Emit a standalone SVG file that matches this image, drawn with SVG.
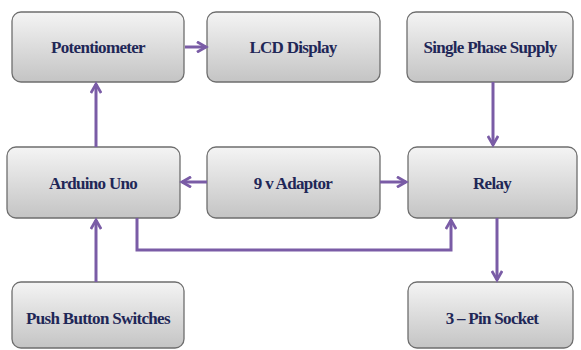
<svg xmlns="http://www.w3.org/2000/svg" width="581" height="350" viewBox="0 0 581 350">
<defs>
<linearGradient id="g" x1="0" y1="0" x2="0" y2="1">
<stop offset="0" stop-color="#f4f4f4"/>
<stop offset="1" stop-color="#c4c4c4"/>
</linearGradient>
<marker id="ah" viewBox="0 0 10 10" refX="8" refY="5" markerWidth="4.3" markerHeight="4.3" orient="auto">
<path d="M1,1 L8,5 L1,9" fill="none" stroke="#7a5ca6" stroke-width="2.2"/>
</marker>
</defs>
<style>
.box{fill:url(#g);stroke:#6e6e6e;stroke-width:1.3}
.t{font-family:'Liberation Serif','DejaVu Serif',serif;font-weight:700;font-size:17px;fill:#1f2757;text-anchor:middle;letter-spacing:-0.7px}
.c{fill:none;stroke:#7a5ca6;stroke-width:3;marker-end:url(#ah)}
</style>
<rect width="581" height="350" fill="#ffffff"/>
<g id="potentiometer"><rect class="box" x="12" y="12" width="172" height="70" rx="9"/><text class="t" x="98" y="53">Potentiometer</text></g>
<g id="lcd"><rect class="box" x="207" y="12" width="173" height="70" rx="9"/><text class="t" x="293" y="53">LCD Display</text></g>
<g id="supply"><rect class="box" x="407" y="12" width="166" height="70" rx="9"/><text class="t" x="490" y="53">Single Phase Supply</text></g>
<g id="arduino"><rect class="box" x="7" y="147" width="173" height="71" rx="9"/><text class="t" x="93" y="189">Arduino Uno</text></g>
<g id="adaptor"><rect class="box" x="207" y="147" width="173" height="71" rx="9"/><text class="t" x="293" y="189">9 v Adaptor</text></g>
<g id="relay"><rect class="box" x="408" y="147" width="169" height="71" rx="9"/><text class="t" x="492" y="189">Relay</text></g>
<g id="push"><rect class="box" x="12" y="282" width="172" height="66" rx="9"/><text class="t" x="98" y="324">Push Button Switches</text></g>
<g id="socket"><rect class="box" x="408" y="282" width="165" height="66" rx="9"/><text class="t" x="492" y="324">3 – Pin Socket</text></g>
<g id="connectors">
<path class="c" d="M185,47 L206,47"/>
<path class="c" d="M96,147 L96,84"/>
<path class="c" d="M493,82 L493,145"/>
<path class="c" d="M207,182 L182,182"/>
<path class="c" d="M380,182 L406,182"/>
<path class="c" d="M96,282 L96,220"/>
<path class="c" d="M137,218 L137,250 L451,250 L451,220"/>
<path class="c" d="M497,218 L497,280"/>
</g>
</svg>
